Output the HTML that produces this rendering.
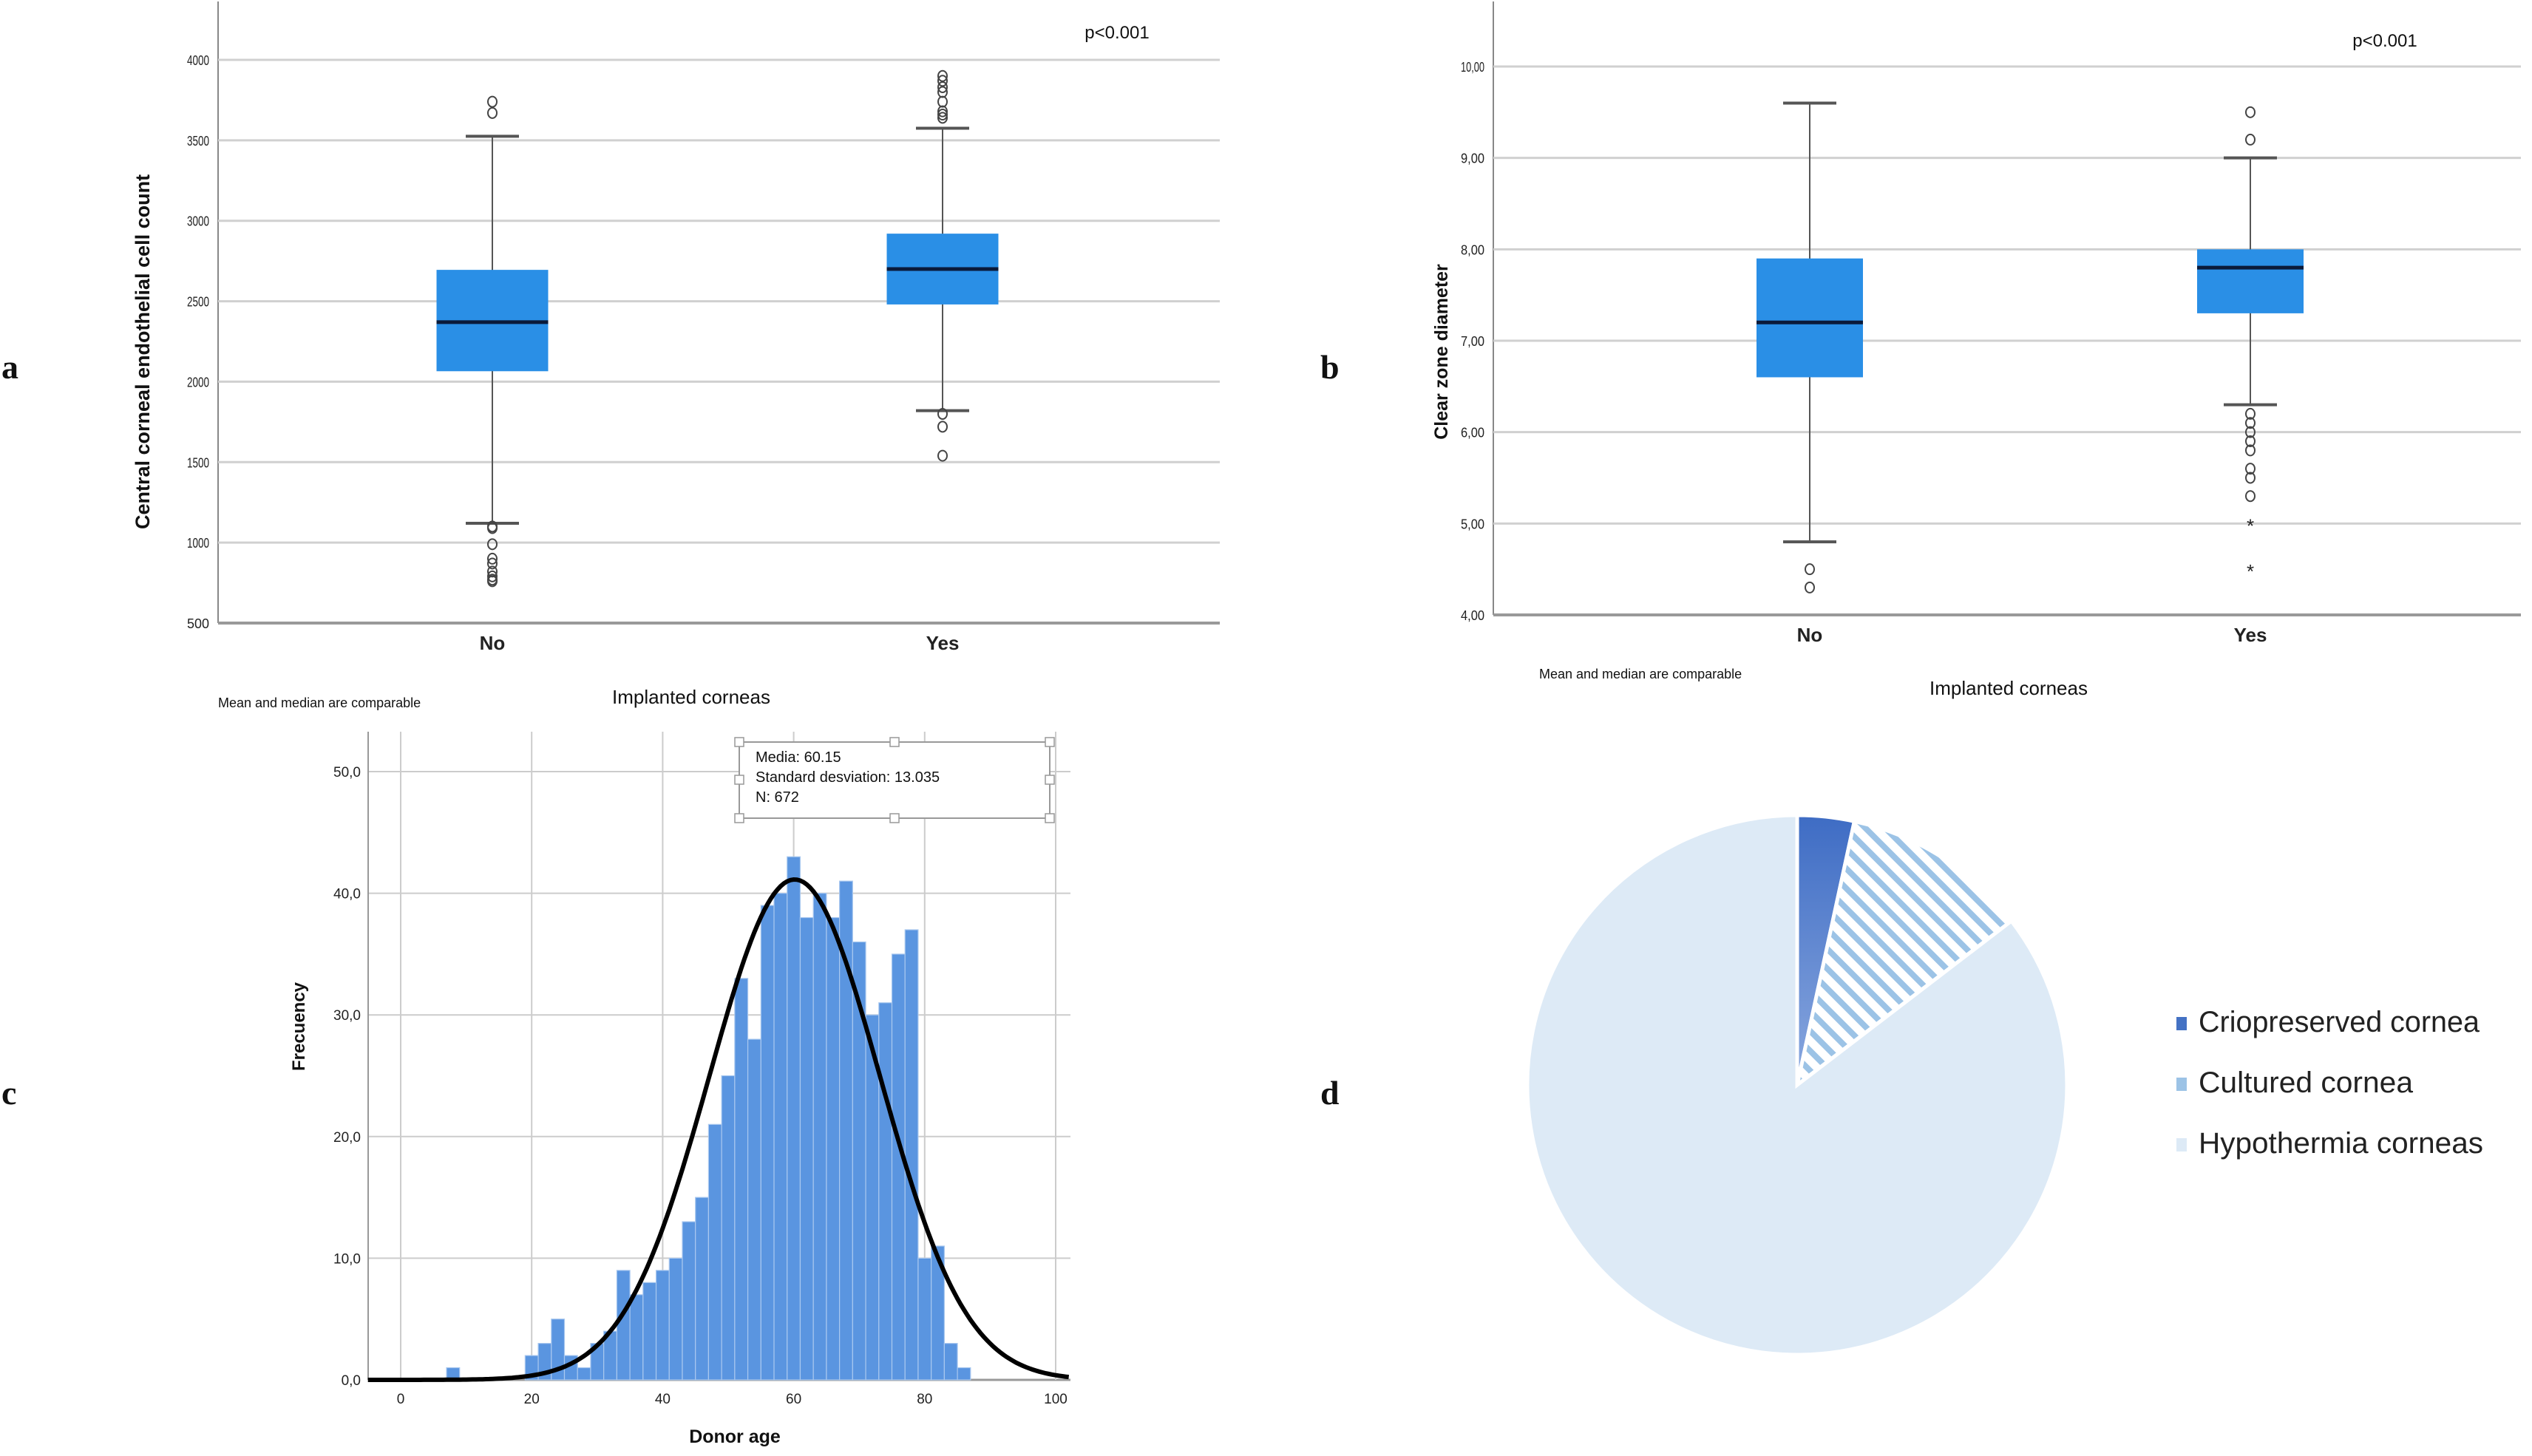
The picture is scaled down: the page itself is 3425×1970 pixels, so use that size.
<!DOCTYPE html>
<html><head><meta charset="utf-8"><style>
html,body{margin:0;padding:0;background:#fff}
svg{display:block}
text{font-family:"Liberation Sans",sans-serif}
text.serif{font-family:"Liberation Serif",serif}
</style></head><body>
<svg id="fig" width="3425" height="1970" viewBox="0 0 3425 1970" xmlns="http://www.w3.org/2000/svg">
<defs>
<pattern id="hatch" patternUnits="userSpaceOnUse" width="19" height="19" patternTransform="rotate(-45)">
<rect width="19" height="19" fill="#fff"/><rect width="8" height="19" fill="#9cc3e6"/></pattern>
<linearGradient id="crioGrad" x1="0" y1="0" x2="0" y2="1"><stop offset="0" stop-color="#3e6cc4"/><stop offset="1" stop-color="#8aa8df"/></linearGradient>
</defs>
<g id="pa"></g>
<g id="pb"></g>
<g id="pc"></g>
<g id="pd"></g>
</svg>
<script>
// ---- Panel a data ----
const aCats = ["No","Yes"];
const aQ1 = [2065, 2480];
const aMed = [2370, 2700];
const aQ3 = [2695, 2920];
const aLo = [1120, 1820];
const aHi = [3525, 3575];
const aOut = [[3740,3670,1100,1090,990,900,870,820,790,770,760],[3900,3870,3830,3800,3740,3680,3660,3640,1800,1720,1540]];
const aTicks = [500,1000,1500,2000,2500,3000,3500,4000];
// ---- Panel b data ----
const bCats = ["No","Yes"];
const bQ1 = [6.6, 7.3];
const bMed = [7.2, 7.8];
const bQ3 = [7.9, 8.0];
const bLo = [4.8, 6.3];
const bHi = [9.6, 9.0];
const bOut = [[4.5,4.3],[9.5,9.2,6.2,6.1,6.0,5.9,5.8,5.6,5.5,5.3]];
const bExt = [[],[5.0,4.5]];
const bTicks = [4,5,6,7,8,9,10];
// ---- Panel c data ----
const cBinStart = [7,19,21,23,25,27,29,31,33,35,37,39,41,43,45,47,49,51,53,55,57,59,61,63,65,67,69,71,73,75,77,79,81,83,85];
const cCounts = [1,2,3,5,2,1,3,4,9,7,8,9,10,13,15,21,25,33,28,39,40,43,38,40,38,41,36,30,31,35,37,10,11,3,1];
const cMean = 60.15, cSD = 13.035, cN = 672, cBinW = 2;
const cXTicks = [0,20,40,60,80,100];
const cYTicks = [0,10,20,30,40,50];
// ---- Panel d data ----
const dLabels = ["Criopreserved cornea","Cultured cornea","Hypothermia corneas"];
const dValues = [3.4, 11.2, 85.4];

const NS="http://www.w3.org/2000/svg";
function mk(parent,tag,attrs,txt){const e=document.createElementNS(NS,tag);for(const k in attrs)e.setAttribute(k,attrs[k]);if(txt!==undefined)e.textContent=txt;parent.appendChild(e);return e;}

function boxPanel(g,o){
  const y=v=>o.y0+(v-o.vmin)/(o.vmax-o.vmin)*(o.y1-o.y0);
  let e=mk(g,'line',{x1:o.left,y1:2,x2:o.left,y2:o.y0,stroke:'#888','stroke-width':2});
  
  o.ticks.forEach(t=>{
    let l=mk(g,'line',{x1:o.left,y1:y(t),x2:o.right,y2:y(t),stroke:t===o.vmin?'#999':'#d0d0d0','stroke-width':t===o.vmin?4:3});
    
    let tx=mk(g,'text',{x:o.left-12,y:y(t)+7,'text-anchor':'end','font-size':18,fill:'#222',textLength:o.tl,lengthAdjust:'spacingAndGlyphs'},o.fmt(t));
    
  });
  o.cats.forEach((c,i)=>{
    const cx=o.cx[i],w=o.bw;
    let wl=mk(g,'line',{x1:cx,y1:y(o.lo[i]),x2:cx,y2:y(o.hi[i]),stroke:'#555','stroke-width':2});
    
    [o.lo[i],o.hi[i]].forEach(v=>{let cap=mk(g,'line',{x1:cx-36,y1:y(v),x2:cx+36,y2:y(v),stroke:'#555','stroke-width':4});
      });
    let b=mk(g,'rect',{x:cx-w/2,y:y(o.q3[i]),width:w,height:y(o.q1[i])-y(o.q3[i]),fill:'#2a8fe6'});
    
    let m=mk(g,'line',{x1:cx-w/2,y1:y(o.med[i]),x2:cx+w/2,y2:y(o.med[i]),stroke:'#0a1a3a','stroke-width':5});
    
    o.out[i].forEach(v=>{let p=mk(g,'ellipse',{cx:cx,cy:y(v),rx:6,ry:7,fill:'none',stroke:'#444','stroke-width':2});
      });
    (o.ext?o.ext[i]:[]).forEach(v=>{let p=mk(g,'text',{x:cx,y:y(v)+12,'text-anchor':'middle','font-size':26,fill:'#222'},'*');
      });
    let lab=mk(g,'text',{x:cx,y:o.y0+36,'text-anchor':'middle','font-size':26,'font-weight':'bold',fill:'#222'},c);
    
  });
  let yl=mk(g,'text',{transform:`translate(${o.ylx},${o.ylc}) rotate(-90)`,'text-anchor':'middle','font-size':o.ylf,'font-weight':'bold',fill:'#111'},o.ylabel);
  
  let xl=mk(g,'text',{x:o.xlx,y:o.xly,'text-anchor':'middle','font-size':26,fill:'#111'},'Implanted corneas');
  
  let n=mk(g,'text',{x:o.nx,y:o.ny,'font-size':18,fill:'#111'},'Mean and median are comparable');
  
  let p=mk(g,'text',{x:o.px,y:o.py,'text-anchor':'middle','font-size':24,fill:'#111'},'p<0.001');
  
  let L=mk(g,'text',{x:o.Lx,y:o.Ly,'font-size':46,'class':'serif','font-weight':'bold',fill:'#111'},o.letter);
  
}
boxPanel(document.getElementById('pa'),{left:295,right:1650,y0:843,y1:81,vmin:500,vmax:4000,ticks:aTicks,fmt:t=>String(t),tl:30,
 cats:aCats,cx:[666,1275],bw:151,q1:aQ1,med:aMed,q3:aQ3,lo:aLo,hi:aHi,out:aOut,ylabel:'Central corneal endothelial cell count',ylx:202,ylc:476,ylf:27,
 xlx:935,xly:952,nx:295,ny:957,px:1511,py:52,Lx:2,Ly:512,letter:'a'});
boxPanel(document.getElementById('pb'),{left:2020,right:3410,y0:832,y1:90,vmin:4,vmax:10,ticks:bTicks,fmt:t=>t.toFixed(2).replace('.',','),tl:32,
 cats:bCats,cx:[2448,3044],bw:144,q1:bQ1,med:bMed,q3:bQ3,lo:bLo,hi:bHi,out:bOut,ext:bExt,ylabel:'Clear zone diameter',ylx:1958,ylc:476,ylf:25,
 xlx:2717,xly:940,nx:2082,ny:918,px:3226,py:63,Lx:1786,Ly:512,letter:'b'});

// ---- Panel c ----
(function(){
  const g=document.getElementById('pc');
  const X0=542,X100=1428,Y0=1867,Y50=1044,L=498,R=1448,T=990;
  const x=v=>X0+v*(X100-X0)/100, y=v=>Y0-v*(Y0-Y50)/50;
  cYTicks.forEach(t=>{let l=mk(g,'line',{x1:L,y1:y(t),x2:R,y2:y(t),stroke:t===0?'#999':'#ccc','stroke-width':t===0?3:2});
    
    let tx=mk(g,'text',{x:L-10,y:y(t)+7,'text-anchor':'end','font-size':19,fill:'#222'},t.toFixed(1).replace('.',','));
    });
  cXTicks.forEach(t=>{let l=mk(g,'line',{x1:x(t),y1:T,x2:x(t),y2:Y0,stroke:'#ccc','stroke-width':2});
    
    let tx=mk(g,'text',{x:x(t),y:Y0+32,'text-anchor':'middle','font-size':19,fill:'#222'},String(t));
    });
  let ax=mk(g,'line',{x1:L,y1:T,x2:L,y2:Y0,stroke:'#999','stroke-width':2});
  
  cBinStart.forEach((s,i)=>{let b=mk(g,'rect',{x:x(s),y:y(cCounts[i]),width:x(s+cBinW)-x(s),height:Y0-y(cCounts[i]),fill:'#5a95e0',stroke:'#a9c8ef','stroke-width':1.2});
    });
  let d='';
  for(let a=-5;a<=102;a+=0.5){const v=cN*cBinW/(cSD*Math.sqrt(2*Math.PI))*Math.exp(-0.5*((a-cMean)/cSD)**2);d+=(d?'L':'M')+x(a).toFixed(1)+','+y(v).toFixed(1);}
  let c=mk(g,'path',{d:d,fill:'none',stroke:'#000','stroke-width':6});
  
  let box=mk(g,'rect',{x:1000,y:1004,width:420,height:103,fill:'#fff',stroke:'#999','stroke-width':2});
  
  [[1000,1004],[1210,1004],[1420,1004],[1000,1055],[1420,1055],[1000,1107],[1210,1107],[1420,1107]].forEach(p=>{
    let h=mk(g,'rect',{x:p[0]-6,y:p[1]-6,width:12,height:12,fill:'#fff',stroke:'#999','stroke-width':1.5});
    });
  ['Media: '+cMean.toFixed(2),'Standard desviation: '+cSD.toFixed(3),'N: '+cN].forEach((s,i)=>{
    let t=mk(g,'text',{x:1022,y:1031+i*27,'font-size':20,fill:'#111'},s);
    });
  let yl=mk(g,'text',{transform:'translate(412,1389) rotate(-90)','text-anchor':'middle','font-size':24,'font-weight':'bold',fill:'#111'},'Frecuency');
  
  let xl=mk(g,'text',{x:994,y:1952,'text-anchor':'middle','font-size':25,'font-weight':'bold',fill:'#111'},'Donor age');
  
  let Lt=mk(g,'text',{x:2,y:1494,'font-size':46,'class':'serif','font-weight':'bold',fill:'#111'},'c');
  
})();

// ---- Panel d ----
(function(){
  const g=document.getElementById('pd');
  const cx=2431,cy=1468,r=365,fills=['url(#crioGrad)','url(#hatch)','#ddeaf6'],lf=['#4472c4','#9cc3e6','#ddeaf6'];
  const tot=dValues.reduce((a,b)=>a+b,0);let a0=0;
  dValues.forEach((v,i)=>{const a1=a0+v/tot*2*Math.PI;
    const p=(a)=>[cx+r*Math.sin(a),cy-r*Math.cos(a)];const s=p(a0),e=p(a1);
    let path=mk(g,'path',{d:`M${cx},${cy}L${s[0]},${s[1]}A${r},${r} 0 ${a1-a0>Math.PI?1:0} 1 ${e[0]},${e[1]}Z`,fill:fills[i],stroke:'#fff','stroke-width':5});
    a0=a1;});
  dLabels.forEach((s,i)=>{const yy=1396+i*82;
    let m=mk(g,'rect',{x:2944,y:yy-20,width:14,height:18,fill:lf[i]});
    
    let t=mk(g,'text',{x:2974,y:yy,'font-size':40,fill:'#222',textLength:[380,290,385][i],lengthAdjust:'spacingAndGlyphs'},s);
    });
  let Lt=mk(g,'text',{x:1786,y:1494,'font-size':46,'class':'serif','font-weight':'bold',fill:'#111'},'d');
  
})();
</script>
</body></html>
